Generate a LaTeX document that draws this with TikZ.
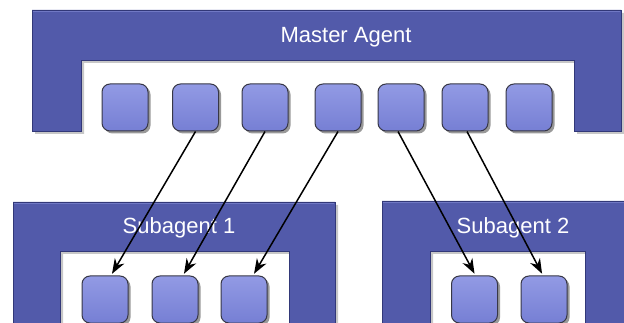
\documentclass[tikz,border=0pt]{standalone}
\usepackage{fontspec}
\setmainfont{Liberation Sans}
\usetikzlibrary{arrows.meta,shadows}
\definecolor{framecol}{RGB}{82,90,170}
\definecolor{framelight}{RGB}{112,120,196}
\definecolor{framedark}{RGB}{50,56,120}
\definecolor{boxtop}{RGB}{146,154,228}
\definecolor{boxbot}{RGB}{118,127,212}
\definecolor{boxedge}{RGB}{55,55,70}
\tikzset{
  frameshape/.style={fill=framecol, draw=framedark, line width=0.6pt},
  frameshadow/.style={fill=black, opacity=0.22},
  agbox/.style={rectangle, rounded corners=8pt, minimum width=46pt, minimum height=47pt,
    top color=boxtop, bottom color=boxbot, draw=boxedge, line width=1pt,
    drop shadow={shadow xshift=2.5pt, shadow yshift=-2.5pt, opacity=0.4, fill=black}},
  lab/.style={text=white, font=\fontsize{22}{26}\selectfont, anchor=base, inner sep=0pt},
  conn/.style={line width=1.5pt, -{Stealth[length=15pt,width=11pt]}, shorten >=2pt}
}
\begin{document}
\begin{tikzpicture}[x=1pt,y=-1pt]
\useasboundingbox (0,0) rectangle (624,323);
\clip (0,0) rectangle (624,323);
% master frame
\fill[frameshadow] (35,13) -- (624,13) -- (624,134) -- (577,134) -- (577,63) -- (84,63) -- (84,134) -- (35,134) -- cycle;
\path[frameshape] (32,131) -- (32,10) -- (621,10) -- (621,131) -- (574,131) -- (574,60) -- (81,60) -- (81,131) -- cycle;
\draw[framelight, line width=1.5pt] (33,11.5) -- (620,11.5);
\node[lab] (mlab) at (346,43) {Master Agent};
% subagent 1 frame
\fill[frameshadow] (16,205) -- (338,205) -- (338,340) -- (292,340) -- (292,254) -- (63,254) -- (63,340) -- (16,340) -- cycle;
\path[frameshape] (13,340) -- (13,202) -- (335,202) -- (335,340) -- (289,340) -- (289,251) -- (60,251) -- (60,340) -- cycle;
\draw[framelight, line width=1.5pt] (14,203.5) -- (334,203.5);
\node[lab] (s1lab) at (179,234) {Subagent 1};
% subagent 2 frame
\fill[frameshadow] (385,204) -- (640,204) -- (640,340) -- (588,340) -- (588,254) -- (433,254) -- (433,340) -- (385,340) -- cycle;
\path[frameshape] (382,340) -- (382,201) -- (632,201) -- (632,340) -- (585,340) -- (585,251) -- (430,251) -- (430,340) -- cycle;
\draw[framelight, line width=1.5pt] (383,202.5) -- (631,202.5);
\node[lab] (s2lab) at (513,234) {Subagent 2};
% master boxes
\node[agbox] (m1) at (125,107.5) {};
\node[agbox] (m2) at (195.5,107.5) {};
\node[agbox] (m3) at (265,107.5) {};
\node[agbox] (m4) at (338,107.5) {};
\node[agbox] (m5) at (401,107.5) {};
\node[agbox] (m6) at (465,107.5) {};
\node[agbox] (m7) at (529,107.5) {};
% subagent boxes
\node[agbox] (a1) at (105,299.5) {};
\node[agbox] (a2) at (175,299.5) {};
\node[agbox] (a3) at (244,299.5) {};
\node[agbox] (b1) at (474.5,299.5) {};
\node[agbox] (b2) at (544,299.5) {};
% connectors
\draw[conn] (m2.south) -- ([xshift=6pt]a1.north);
\draw[conn] (m3.south) -- ([xshift=8pt]a2.north);
\draw[conn] (m4.south) -- ([xshift=9pt]a3.north);
\draw[conn] ([xshift=-3pt]m5.south) -- ([xshift=1pt]b1.north);
\draw[conn] ([xshift=2pt]m6.south) -- ([xshift=-1pt]b2.north);
\end{tikzpicture}
\end{document}
